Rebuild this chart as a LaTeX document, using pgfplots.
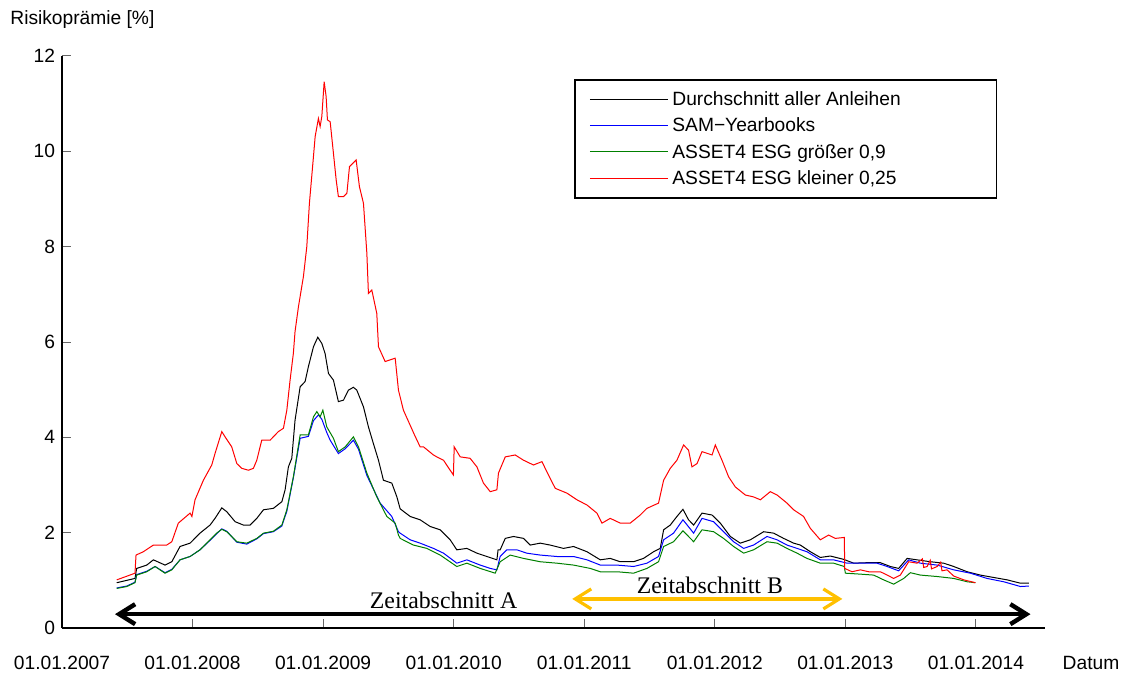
\documentclass[border=0pt]{standalone}
\usepackage{fontspec}
\setmainfont{Liberation Sans}
\newfontfamily\seriffont{Liberation Serif}
\usepackage{pgfplots}
\usepackage{pgfplotstable}
\pgfplotsset{compat=1.18}
\usetikzlibrary{arrows.meta}
\definecolor{mygreen}{RGB}{0,128,0}
\definecolor{gold}{RGB}{255,192,0}
\newcommand{\lstrut}{\rule[-3.7pt]{0pt}{11.3pt}}

\pgfplotstableread{
x y
2007.419 0.95
2007.559 1.04
2007.572 1.25
2007.649 1.32
2007.700 1.43
2007.789 1.32
2007.841 1.39
2007.904 1.71
2007.981 1.78
2008.057 1.99
2008.134 2.16
2008.172 2.30
2008.224 2.52
2008.262 2.44
2008.326 2.23
2008.389 2.16
2008.441 2.16
2008.492 2.30
2008.543 2.48
2008.619 2.51
2008.684 2.65
2008.709 2.90
2008.734 3.38
2008.760 3.56
2008.785 4.36
2008.824 5.06
2008.862 5.17
2008.887 5.48
2008.926 5.90
2008.959 6.10
2008.990 5.97
2009.015 5.76
2009.041 5.34
2009.079 5.20
2009.117 4.75
2009.156 4.78
2009.194 4.99
2009.232 5.05
2009.258 4.99
2009.309 4.64
2009.347 4.22
2009.385 3.87
2009.424 3.52
2009.462 3.10
2009.526 3.04
2009.565 2.75
2009.590 2.50
2009.667 2.34
2009.743 2.27
2009.820 2.13
2009.897 2.06
2009.973 1.85
2010.024 1.64
2010.101 1.67
2010.178 1.57
2010.254 1.50
2010.331 1.43
2010.340 1.64
2010.356 1.64
2010.395 1.88
2010.458 1.92
2010.535 1.88
2010.586 1.74
2010.663 1.78
2010.739 1.74
2010.841 1.67
2010.918 1.71
2011.021 1.60
2011.123 1.43
2011.199 1.46
2011.276 1.39
2011.378 1.39
2011.454 1.46
2011.531 1.60
2011.582 1.67
2011.608 2.06
2011.659 2.16
2011.710 2.34
2011.756 2.49
2011.799 2.27
2011.838 2.16
2011.902 2.41
2011.979 2.37
2012.042 2.20
2012.119 1.92
2012.195 1.78
2012.272 1.85
2012.374 2.02
2012.451 1.99
2012.527 1.88
2012.604 1.78
2012.655 1.74
2012.732 1.60
2012.808 1.48
2012.885 1.51
2012.987 1.44
2013.064 1.36
2013.166 1.37
2013.268 1.37
2013.345 1.29
2013.408 1.25
2013.473 1.46
2013.549 1.43
2013.651 1.39
2013.753 1.36
2013.830 1.29
2013.933 1.18
2014.034 1.11
2014.136 1.06
2014.239 1.01
2014.341 0.94
2014.405 0.94
}\avg

\pgfplotstableread{
x y
2007.419 0.84
2007.496 0.88
2007.559 0.96
2007.572 1.12
2007.649 1.19
2007.713 1.29
2007.789 1.16
2007.841 1.23
2007.904 1.43
2007.981 1.50
2008.057 1.64
2008.134 1.84
2008.185 1.98
2008.224 2.08
2008.262 2.03
2008.339 1.80
2008.415 1.76
2008.492 1.87
2008.543 1.98
2008.619 2.02
2008.684 2.14
2008.722 2.45
2008.772 3.15
2008.824 3.98
2008.887 4.02
2008.926 4.35
2008.964 4.47
2008.990 4.38
2009.028 4.10
2009.054 3.94
2009.117 3.66
2009.169 3.76
2009.232 3.94
2009.271 3.75
2009.335 3.20
2009.437 2.62
2009.526 2.34
2009.577 2.02
2009.590 1.99
2009.667 1.85
2009.743 1.78
2009.845 1.67
2009.922 1.57
2010.024 1.36
2010.101 1.43
2010.203 1.32
2010.280 1.25
2010.331 1.22
2010.356 1.50
2010.407 1.64
2010.484 1.64
2010.560 1.57
2010.663 1.53
2010.791 1.50
2010.918 1.50
2011.021 1.43
2011.123 1.32
2011.251 1.32
2011.378 1.29
2011.480 1.36
2011.569 1.50
2011.608 1.85
2011.684 1.99
2011.756 2.27
2011.838 1.99
2011.902 2.30
2011.991 2.23
2012.067 2.02
2012.144 1.81
2012.221 1.67
2012.297 1.74
2012.400 1.92
2012.477 1.85
2012.553 1.74
2012.630 1.67
2012.706 1.60
2012.808 1.43
2012.910 1.43
2013.013 1.36
2013.115 1.36
2013.243 1.36
2013.320 1.29
2013.408 1.20
2013.485 1.43
2013.575 1.36
2013.703 1.32
2013.830 1.22
2013.958 1.15
2014.085 1.04
2014.213 0.97
2014.341 0.87
2014.405 0.88
}\sam

\pgfplotstableread{
x y
2007.419 0.83
2007.496 0.87
2007.559 0.95
2007.572 1.11
2007.649 1.18
2007.713 1.29
2007.789 1.15
2007.841 1.22
2007.904 1.43
2007.981 1.50
2008.057 1.64
2008.134 1.85
2008.185 1.99
2008.224 2.07
2008.262 2.02
2008.339 1.81
2008.415 1.78
2008.492 1.88
2008.543 1.99
2008.619 2.03
2008.684 2.16
2008.722 2.48
2008.772 3.17
2008.824 4.05
2008.887 4.05
2008.926 4.43
2008.952 4.54
2008.977 4.43
2008.998 4.57
2009.028 4.22
2009.079 3.98
2009.117 3.70
2009.169 3.80
2009.232 4.01
2009.271 3.80
2009.335 3.25
2009.411 2.75
2009.488 2.34
2009.552 2.20
2009.577 1.95
2009.590 1.88
2009.692 1.74
2009.795 1.67
2009.897 1.53
2010.024 1.29
2010.101 1.36
2010.203 1.25
2010.318 1.15
2010.356 1.39
2010.433 1.53
2010.535 1.46
2010.663 1.39
2010.791 1.36
2010.918 1.32
2011.046 1.25
2011.123 1.18
2011.251 1.18
2011.378 1.15
2011.480 1.25
2011.569 1.39
2011.608 1.71
2011.684 1.81
2011.756 2.04
2011.838 1.81
2011.902 2.06
2011.991 2.02
2012.067 1.88
2012.144 1.71
2012.221 1.57
2012.297 1.64
2012.400 1.81
2012.477 1.78
2012.553 1.67
2012.630 1.57
2012.706 1.46
2012.808 1.36
2012.910 1.36
2012.992 1.29
2013.000 1.15
2013.115 1.13
2013.217 1.11
2013.293 1.01
2013.370 0.92
2013.447 1.04
2013.498 1.16
2013.575 1.11
2013.703 1.08
2013.830 1.04
2013.933 0.97
2013.996 0.95
}\high

\pgfplotstableread{
x y
2007.419 1.01
2007.490 1.08
2007.559 1.15
2007.567 1.53
2007.623 1.60
2007.700 1.74
2007.802 1.74
2007.841 1.81
2007.891 2.20
2007.981 2.41
2007.995 2.34
2008.019 2.69
2008.083 3.10
2008.147 3.42
2008.172 3.66
2008.224 4.12
2008.249 4.01
2008.300 3.80
2008.339 3.45
2008.377 3.35
2008.428 3.31
2008.466 3.35
2008.492 3.52
2008.530 3.94
2008.594 3.94
2008.657 4.12
2008.696 4.19
2008.722 4.57
2008.747 5.20
2008.772 5.76
2008.785 6.22
2008.811 6.74
2008.849 7.37
2008.875 8.00
2008.895 8.91
2008.926 9.89
2008.939 10.31
2008.964 10.69
2008.977 10.52
2008.990 10.73
2009.008 11.46
2009.023 11.15
2009.033 10.66
2009.054 10.62
2009.079 9.96
2009.100 9.40
2009.117 9.05
2009.156 9.05
2009.182 9.12
2009.202 9.68
2009.253 9.82
2009.278 9.26
2009.309 8.91
2009.335 7.86
2009.347 7.02
2009.373 7.09
2009.411 6.60
2009.424 5.90
2009.475 5.59
2009.552 5.66
2009.577 4.99
2009.615 4.57
2009.700 4.05
2009.743 3.80
2009.769 3.80
2009.845 3.63
2009.871 3.59
2009.922 3.52
2009.973 3.31
2009.998 3.21
2010.004 3.80
2010.050 3.59
2010.126 3.56
2010.178 3.38
2010.228 3.04
2010.280 2.86
2010.331 2.90
2010.343 3.25
2010.395 3.59
2010.471 3.63
2010.535 3.52
2010.611 3.42
2010.676 3.49
2010.726 3.21
2010.778 2.93
2010.867 2.83
2010.944 2.69
2011.021 2.58
2011.097 2.41
2011.136 2.20
2011.199 2.30
2011.276 2.20
2011.352 2.20
2011.429 2.37
2011.480 2.51
2011.569 2.62
2011.608 3.10
2011.659 3.35
2011.710 3.52
2011.761 3.84
2011.799 3.73
2011.825 3.38
2011.864 3.45
2011.902 3.70
2011.979 3.63
2012.004 3.84
2012.055 3.52
2012.106 3.17
2012.157 2.96
2012.234 2.79
2012.297 2.75
2012.349 2.69
2012.425 2.86
2012.477 2.79
2012.553 2.62
2012.604 2.48
2012.680 2.34
2012.732 2.09
2012.808 1.85
2012.872 1.95
2012.923 1.88
2012.992 1.90
2012.995 1.25
2013.051 1.18
2013.115 1.22
2013.179 1.18
2013.268 1.18
2013.320 1.11
2013.370 1.04
2013.421 1.11
2013.485 1.39
2013.549 1.36
2013.590 1.45
2013.600 1.27
2013.626 1.29
2013.650 1.42
2013.660 1.24
2013.703 1.29
2013.730 1.38
2013.740 1.20
2013.779 1.22
2013.830 1.09
2013.907 1.01
2013.996 0.95
}\low

\begin{document}
\begin{tikzpicture}[every node/.append style={font=\fontsize{9.6}{11.5}\selectfont}]
\useasboundingbox (-31pt,-23.5pt) rectangle (534pt,314pt);
\begin{axis}[
  at={(0,0)}, anchor=south west,
  scale only axis, width=491.5pt, height=286pt,
  xmin=2007, xmax=2014.529, ymin=0, ymax=12,
  axis x line*=bottom, axis y line*=left,
  axis line style={line width=0.6pt, black},
  xtick={2007,2008,...,2014},
  xticklabels={01.01.2007,01.01.2008,01.01.2009,01.01.2010,01.01.2011,01.01.2012,01.01.2013,01.01.2014},
  ytick={0,2,...,12},
  tick align=inside, major tick length=4.5pt,
  tick style={black!60, line width=0.5pt},
  /pgf/number format/assume math mode=true,
  tick label style={font=\fontsize{9.6}{11.5}\selectfont},
  xticklabel style={anchor=base, yshift=-20.5pt},
  clip=false,
  legend style={at={(rel axis cs:0.5219,0.958)}, anchor=north west, draw=none, fill=none,
    font=\fontsize{9.6}{11.5}\selectfont, inner xsep=7pt, inner ysep=3pt},
  legend cell align=left,
  legend image code/.code={\draw[#1, line width=0.5pt] (0pt,0pt) -- (39pt,0pt);},
]
\addplot[black, line width=0.5pt] table {\avg};
\addlegendentry{\lstrut Durchschnitt aller Anleihen}
\addplot[blue, line width=0.5pt] table {\sam};
\addlegendentry{\lstrut SAM\textminus Yearbooks}
\addplot[mygreen, line width=0.5pt] table {\high};
\addlegendentry{\lstrut ASSET4 ESG größer 0,9}
\addplot[red, line width=0.5pt] table {\low};
\addlegendentry{\lstrut ASSET4 ESG kleiner 0,25}

\draw[black, line width=0.6pt] (rel axis cs:0.5219,0.958) rectangle (rel axis cs:0.951,0.7517);
\draw[line width=2.2pt, {Straight Barb[length=8pt,width=10pt]}-{Straight Barb[length=8pt,width=10pt]}] (axis cs:2007.406,0.29) -- (axis cs:2014.418,0.29);
\draw[gold, line width=1.6pt, {Straight Barb[length=8pt,width=10pt]}-{Straight Barb[length=8pt,width=10pt]}] (axis cs:2010.908,0.61) -- (axis cs:2012.977,0.61);
\node[font=\seriffont\fontsize{11.9}{13}\selectfont, anchor=base] at (axis cs:2009.923,0.40) {Zeitabschnitt A};
\node[font=\seriffont\fontsize{11.9}{13}\selectfont, anchor=base] at (axis cs:2011.962,0.73) {Zeitabschnitt B};
\node[anchor=west, inner sep=0pt] at (rel axis cs:-0.0529,1.063) {Risikoprämie [\%]};
\node[anchor=base, inner sep=0pt, yshift=-20.5pt] at (rel axis cs:1.0468,0) {Datum};
\end{axis}
\end{tikzpicture}
\end{document}
